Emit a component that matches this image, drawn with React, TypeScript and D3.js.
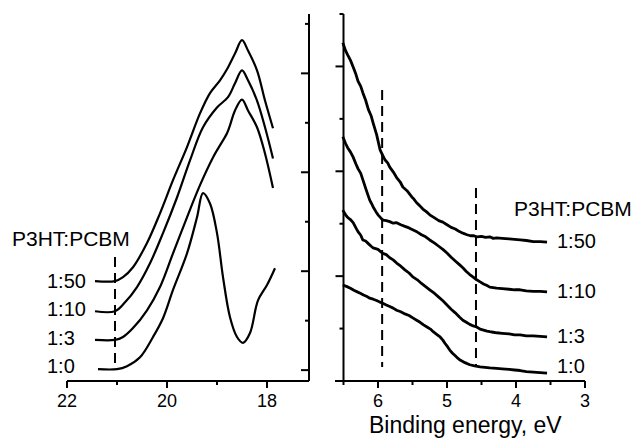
import React from "react";
import * as d3 from "d3";

// ratios, top to bottom
const ratios = ["1:50", "1:10", "1:3", "1:0"];

// left panel: [energy, intensity]
const left150 = [[21.44, 1.8], [21.04, 1.8], [20.88, 1.88], [20.68, 2.08], [20.4, 2.57], [20.14, 3.17], [19.88, 3.84], [19.6, 4.51], [19.34, 5.19], [19.14, 5.6], [18.94, 5.86], [18.78, 6.12], [18.64, 6.4], [18.5, 6.67], [18.38, 6.46], [18.2, 6.06], [18.04, 5.45], [17.88, 4.89]];
const left110 = [[21.44, 1.19], [21.04, 1.19], [20.84, 1.37], [20.6, 1.68], [20.34, 2.16], [20.08, 2.77], [19.8, 3.49], [19.54, 4.24], [19.28, 4.91], [19.0, 5.31], [18.78, 5.52], [18.64, 5.8], [18.5, 6.06], [18.38, 5.86], [18.2, 5.45], [18.04, 4.91], [17.88, 4.28]];
const left13 = [[21.44, 0.61], [21.04, 0.61], [20.88, 0.67], [20.68, 0.85], [20.4, 1.21], [20.14, 1.68], [19.88, 2.36], [19.6, 3.09], [19.34, 3.74], [19.08, 4.3], [18.8, 4.79], [18.74, 4.95], [18.64, 5.25], [18.5, 5.47], [18.38, 5.25], [18.2, 4.91], [18.04, 4.38], [17.88, 3.68]];
const left10 = [[21.38, 0.02], [21.0, 0.02], [20.8, 0.08], [20.54, 0.26], [20.28, 0.67], [20.08, 1.05], [19.88, 1.62], [19.6, 2.36], [19.4, 3.09], [19.28, 3.58], [19.14, 3.37], [19.0, 2.77], [18.88, 1.88], [18.74, 1.07], [18.6, 0.67], [18.48, 0.55], [18.34, 0.75], [18.18, 1.41], [18.0, 1.72], [17.84, 2.06]];

// right panel: [binding energy, intensity]
const right150 = [[6.51, 6.45], [6.47, 6.3], [6.44, 6.22], [6.4, 6.12], [6.36, 5.99], [6.32, 5.85], [6.29, 5.72], [6.25, 5.62], [6.22, 5.5], [6.18, 5.36], [6.14, 5.18], [6.1, 5.06], [6.07, 4.92], [6.02, 4.7], [5.97, 4.41], [5.93, 4.3], [5.9, 4.22], [5.86, 4.16], [5.83, 4.08], [5.78, 3.99], [5.73, 3.88], [5.68, 3.8], [5.64, 3.7], [5.58, 3.63], [5.51, 3.51], [5.48, 3.47], [5.44, 3.4], [5.4, 3.35], [5.35, 3.28], [5.3, 3.23], [5.25, 3.17], [5.18, 3.11], [5.12, 3.06], [5.06, 3.03], [5.0, 2.98], [4.94, 2.93], [4.88, 2.9], [4.82, 2.85], [4.77, 2.82], [4.71, 2.79], [4.66, 2.77], [4.61, 2.77], [4.57, 2.75], [4.5, 2.76], [4.44, 2.74], [4.38, 2.75], [4.33, 2.72], [4.28, 2.73], [4.2, 2.72], [4.1, 2.71], [4.02, 2.7], [3.94, 2.69], [3.85, 2.68], [3.75, 2.66], [3.65, 2.66], [3.55, 2.65]];
const right110 = [[6.51, 4.66], [6.47, 4.53], [6.44, 4.45], [6.4, 4.37], [6.36, 4.27], [6.32, 4.14], [6.29, 4.05], [6.25, 3.96], [6.22, 3.84], [6.17, 3.64], [6.12, 3.45], [6.1, 3.4], [6.07, 3.32], [6.03, 3.23], [6.0, 3.17], [5.96, 3.11], [5.93, 3.07], [5.88, 3.06], [5.83, 3.04], [5.78, 3.01], [5.73, 3.02], [5.67, 2.98], [5.61, 2.95], [5.55, 2.92], [5.49, 2.88], [5.43, 2.84], [5.37, 2.79], [5.31, 2.75], [5.25, 2.69], [5.18, 2.63], [5.12, 2.57], [5.06, 2.51], [5.0, 2.44], [4.94, 2.36], [4.88, 2.29], [4.82, 2.22], [4.77, 2.16], [4.72, 2.09], [4.67, 2.03], [4.62, 1.98], [4.57, 1.93], [4.52, 1.89], [4.47, 1.85], [4.42, 1.82], [4.38, 1.79], [4.33, 1.78], [4.28, 1.77], [4.2, 1.76], [4.1, 1.75], [4.02, 1.74], [3.94, 1.74], [3.85, 1.72], [3.75, 1.71], [3.65, 1.71], [3.55, 1.7]];
const right13 = [[6.51, 3.26], [6.47, 3.17], [6.44, 3.12], [6.4, 3.08], [6.36, 3.02], [6.32, 2.92], [6.29, 2.85], [6.25, 2.78], [6.22, 2.69], [6.18, 2.67], [6.14, 2.62], [6.1, 2.57], [6.07, 2.54], [6.0, 2.51], [5.94, 2.44], [5.88, 2.41], [5.83, 2.35], [5.78, 2.31], [5.73, 2.25], [5.67, 2.19], [5.61, 2.12], [5.55, 2.06], [5.49, 1.98], [5.43, 1.93], [5.37, 1.86], [5.31, 1.8], [5.25, 1.74], [5.18, 1.67], [5.12, 1.6], [5.06, 1.53], [5.0, 1.45], [4.94, 1.37], [4.88, 1.3], [4.82, 1.22], [4.77, 1.16], [4.72, 1.12], [4.67, 1.08], [4.62, 1.05], [4.57, 1.03], [4.52, 0.99], [4.47, 0.97], [4.42, 0.95], [4.38, 0.94], [4.33, 0.93], [4.28, 0.92], [4.2, 0.91], [4.1, 0.9], [4.02, 0.88], [3.94, 0.88], [3.85, 0.86], [3.75, 0.86], [3.65, 0.85], [3.55, 0.84]];
const right10 = [[6.51, 1.83], [6.45, 1.8], [6.4, 1.77], [6.35, 1.73], [6.3, 1.7], [6.25, 1.67], [6.21, 1.64], [6.16, 1.61], [6.12, 1.58], [6.07, 1.56], [6.03, 1.54], [5.98, 1.51], [5.94, 1.49], [5.88, 1.45], [5.83, 1.42], [5.78, 1.39], [5.73, 1.35], [5.67, 1.32], [5.61, 1.28], [5.55, 1.25], [5.49, 1.2], [5.44, 1.16], [5.39, 1.12], [5.34, 1.07], [5.29, 1.03], [5.24, 0.99], [5.2, 0.94], [5.15, 0.89], [5.1, 0.84], [5.06, 0.78], [5.03, 0.72], [4.99, 0.65], [4.96, 0.59], [4.92, 0.53], [4.88, 0.48], [4.84, 0.43], [4.81, 0.4], [4.74, 0.35], [4.67, 0.31], [4.6, 0.29], [4.52, 0.27], [4.45, 0.26], [4.38, 0.25], [4.28, 0.24], [4.2, 0.23], [4.1, 0.22], [4.02, 0.21], [3.94, 0.2], [3.85, 0.18], [3.75, 0.17], [3.65, 0.16], [3.55, 0.15]];

const leftSeries = [left150, left110, left13, left10];
const rightSeries = [right150, right110, right13, right10];

// dashed markers
const leftDash = [21.04];
const rightDash = [5.94, 4.58];

const leftMajor = [22, 20, 18];
const leftMinor = [21, 19];
const rightMajor = [6, 5, 4, 3];
const rightMinor = [6.5, 5.5, 4.5, 3.5];

const font = "'Liberation Sans', Arial, Helvetica, sans-serif";

export default function App() {
  const W = 636;
  const H = 438;
  const axisY = 381;

  const xL = d3.scaleLinear().domain([22, 17.16]).range([67, 309]);
  const yL = d3.scaleLinear().domain([-0.22, 7.2]).range([axisY, 14]);
  const xR = d3.scaleLinear().domain([6.5, 3]).range([343.5, 585]);
  const yR = d3.scaleLinear().domain([0, 7]).range([axisY, 14]);

  const lineL = d3.line<number[]>().x((d) => xL(d[0])).y((d) => yL(d[1])).curve(d3.curveCatmullRom.alpha(0.5));
  const lineR = d3.line<number[]>().x((d) => xR(d[0])).y((d) => yR(d[1])).curve(d3.curveLinear);

  const rightLabelY = [248, 298, 343, 373];
  const leftLabelY = [288, 316, 345, 373];

  return (
    <svg width={W} height={H} style={{ position: "absolute", left: 0, top: 0, background: "#fff" }} fontFamily={font}>
      {/* left panel */}
      <line x1={xL(22)} x2={xL.range()[1]} y1={axisY} y2={axisY} stroke="#000" strokeWidth={2} />
      <line x1={309} x2={309} y1={14} y2={axisY} stroke="#000" strokeWidth={2} />
      {leftMajor.map((t) => (
        <g key={"lM" + t}>
          <line x1={xL(t)} x2={xL(t)} y1={axisY} y2={axisY + 7} stroke="#000" strokeWidth={2} />
          <text x={xL(t)} y={407} fontSize={18} textAnchor="middle">{t}</text>
        </g>
      ))}
      {leftMinor.map((t) => (
        <line key={"lm" + t} x1={xL(t)} x2={xL(t)} y1={axisY} y2={axisY + 4} stroke="#000" strokeWidth={2} />
      ))}
      {d3.range(0, 8).map((t) => (
        <line key={"ly" + t} x1={309} x2={309 - (t % 2 === 0 ? 8 : 4)} y1={yL(t)} y2={yL(t)} stroke="#000" strokeWidth={2} />
      ))}
      {leftDash.map((v) => (
        <line key={"ld" + v} x1={xL(v)} x2={xL(v)} y1={257} y2={364} stroke="#000" strokeWidth={2} strokeDasharray="10,6" />
      ))}
      {leftSeries.map((s, i) => (
        <path key={"lp" + i} d={lineL(s) || ""} fill="none" stroke="#000" strokeWidth={2.2} />
      ))}
      <text x={12} y={246} fontSize={21}>P3HT:PCBM</text>
      {ratios.map((r, i) => (
        <text key={"lt" + i} x={47} y={leftLabelY[i]} fontSize={20}>{r}</text>
      ))}

      {/* right panel */}
      <line x1={335} x2={xR(3)} y1={axisY} y2={axisY} stroke="#000" strokeWidth={2} />
      <line x1={xR(6.5)} x2={xR(6.5)} y1={14} y2={axisY} stroke="#000" strokeWidth={2} />
      {rightMajor.map((t) => (
        <g key={"rM" + t}>
          <line x1={xR(t)} x2={xR(t)} y1={axisY} y2={axisY + 7} stroke="#000" strokeWidth={2} />
          <text x={xR(t)} y={407} fontSize={18} textAnchor="middle">{t}</text>
        </g>
      ))}
      {rightMinor.map((t) => (
        <line key={"rm" + t} x1={xR(t)} x2={xR(t)} y1={axisY} y2={axisY + 4} stroke="#000" strokeWidth={2} />
      ))}
      {d3.range(1, 8).map((t) => (
        <line key={"ry" + t} x1={xR(6.5)} x2={xR(6.5) - (t % 2 === 0 ? 8 : 4)} y1={yR(t)} y2={yR(t)} stroke="#000" strokeWidth={2} />
      ))}
      <line x1={xR(rightDash[0])} x2={xR(rightDash[0])} y1={90} y2={367} stroke="#000" strokeWidth={2} strokeDasharray="10,6" />
      <line x1={xR(rightDash[1])} x2={xR(rightDash[1])} y1={188} y2={367} stroke="#000" strokeWidth={2} strokeDasharray="10,6" />
      {rightSeries.map((s, i) => (
        <path key={"rp" + i} d={lineR(s) || ""} fill="none" stroke="#000" strokeWidth={2.8} strokeLinejoin="round" />
      ))}
      <text x={514} y={216} fontSize={21}>P3HT:PCBM</text>
      {ratios.map((r, i) => (
        <text key={"rt" + i} x={557} y={rightLabelY[i]} fontSize={20}>{r}</text>
      ))}
      <text x={369} y={433} fontSize={23}>Binding energy, eV</text>
    </svg>
  );
}
